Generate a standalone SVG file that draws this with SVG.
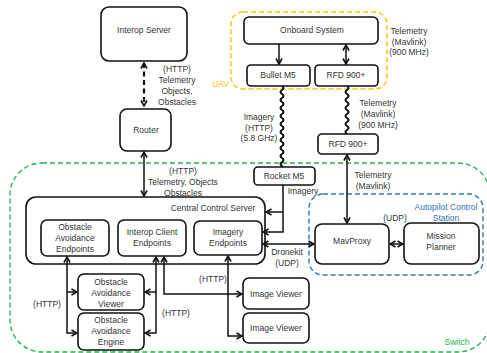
<svg xmlns="http://www.w3.org/2000/svg" width="487" height="353" viewBox="0 0 487 353">
<style>
text{font-family:"Liberation Sans",Arial,sans-serif;font-size:8.5px;fill:#333;text-anchor:middle}
.box{fill:#fff;stroke:#111;stroke-width:1.6}
.ln{fill:none;stroke:#111;stroke-width:1.5}
.wv{fill:none;stroke:#111;stroke-width:2}
.sw{fill:none;stroke:#1fb24a;stroke-width:1.3;stroke-dasharray:5 3}
.uav{fill:none;stroke:#ffc000;stroke-width:1.4;stroke-dasharray:5 3}
.acs{fill:none;stroke:#2e75b6;stroke-width:1.4;stroke-dasharray:5 3}
.g{fill:#1fb24a}.y{fill:#ffc000}.b{fill:#2e75b6}
</style>
<defs>
<marker id="ah" viewBox="0 0 8 8" refX="7" refY="4" markerWidth="8" markerHeight="8" markerUnits="userSpaceOnUse" orient="auto-start-reverse">
<path d="M1.5,1 L7,4 L1.5,7" fill="none" stroke="#111" stroke-width="1.6"/>
</marker>
</defs>

<g id="switch">
<rect class="sw" x="10" y="163" width="480" height="189" rx="32"/>
<text class="g" x="457" y="345">Switch</text>
</g>
<g id="uav">
<rect class="uav" x="231" y="12" width="156" height="77" rx="12"/>
<text class="y" x="229" y="87" style="text-anchor:end">UAV</text>
</g>
<g id="acs">
<rect class="acs" x="309" y="194" width="174" height="81" rx="14"/>
<text class="b" x="446" y="210">Autopilot Control</text>
<text class="b" x="446" y="221">Station</text>
</g>

<g id="interop-server"><rect class="box" x="101" y="7" width="86" height="54" rx="8"/><text x="144" y="33">Interop Server</text></g>
<g id="router"><rect class="box" x="120" y="109" width="51" height="42" rx="7"/><text x="146" y="133">Router</text></g>
<g id="ccs"><rect class="box" x="26" y="197" width="239" height="67" rx="10"/><text x="213" y="211">Central Control Server</text></g>
<g id="oa-endpoints"><rect class="box" x="41" y="220" width="68" height="36" rx="6"/><text x="75" y="230">Obstacle</text><text x="75" y="241">Avoidance</text><text x="75" y="252">Endpoints</text></g>
<g id="ic-endpoints"><rect class="box" x="118" y="220" width="68" height="36" rx="6"/><text x="152" y="235">Interop Client</text><text x="152" y="246">Endpoints</text></g>
<g id="img-endpoints"><rect class="box" x="194" y="221" width="68" height="34" rx="6"/><text x="228" y="235">Imagery</text><text x="228" y="246">Endpoints</text></g>
<g id="oa-viewer"><rect class="box" x="78" y="274" width="66" height="36" rx="6"/><text x="111" y="285">Obstacle</text><text x="111" y="296">Avoidance</text><text x="111" y="307">Viewer</text></g>
<g id="oa-engine"><rect class="box" x="78" y="313" width="66" height="37" rx="6"/><text x="111" y="323">Obstacle</text><text x="111" y="334">Avoidance</text><text x="111" y="345">Engine</text></g>
<g id="image-viewer-1"><rect class="box" x="243" y="278" width="66" height="31" rx="6"/><text x="276" y="297">Image Viewer</text></g>
<g id="image-viewer-2"><rect class="box" x="243" y="313" width="66" height="30" rx="6"/><text x="276" y="331">Image Viewer</text></g>
<g id="rocket-m5"><rect class="box" x="254" y="167" width="61" height="18" rx="4"/><text x="284" y="179">Rocket M5</text></g>
<g id="rfd-ground"><rect class="box" x="318" y="134" width="60" height="20" rx="4"/><text x="348" y="147">RFD 900+</text></g>
<g id="mavproxy"><rect class="box" x="315" y="224" width="74" height="40" rx="7"/><text x="352" y="244">MavProxy</text></g>
<g id="mission-planner"><rect class="box" x="404" y="223" width="75" height="41" rx="7"/><text x="441" y="239">Mission</text><text x="441" y="250">Planner</text></g>
<g id="onboard"><rect class="box" x="244" y="17" width="134" height="27" rx="5"/><text x="312" y="33">Onboard System</text></g>
<g id="bullet-m5"><rect class="box" x="247" y="65" width="63" height="21" rx="4"/><text x="278" y="78">Bullet M5</text></g>
<g id="rfd-air"><rect class="box" x="315" y="65" width="63" height="21" rx="4"/><text x="346" y="78">RFD 900+</text></g>

<g id="connectors">
<path d="M144,63 V106" fill="none" stroke="#111" stroke-width="2.2" stroke-dasharray="5 3.5" marker-start="url(#ah)" marker-end="url(#ah)"/>
<path class="ln" d="M144,152 V196" stroke-width="2" marker-start="url(#ah)" marker-end="url(#ah)"/>
<path class="ln" d="M67,257 V333 H77" marker-start="url(#ah)" marker-end="url(#ah)"/>
<path class="ln" d="M67,292 H77" marker-end="url(#ah)"/>
<path class="ln" d="M156,257 V333 H145" marker-start="url(#ah)" marker-end="url(#ah)"/>
<path class="ln" d="M156,292 H145" marker-end="url(#ah)"/>
<path class="ln" d="M164,257 V294 H242" marker-start="url(#ah)" marker-end="url(#ah)"/>
<path class="ln" d="M228,256 V336 H242" marker-start="url(#ah)" marker-end="url(#ah)"/>
<path class="ln" d="M283,185 V232 H263" marker-end="url(#ah)"/>
<path class="ln" d="M283,212 H266" marker-end="url(#ah)"/>
<path class="ln" d="M263,244 H314" marker-start="url(#ah)" marker-end="url(#ah)"/>
<path class="ln" d="M390,244 H403" marker-start="url(#ah)" marker-end="url(#ah)"/>
<path class="ln" d="M347,155 V223" marker-start="url(#ah)" marker-end="url(#ah)"/>
<path class="ln" d="M279,44 V64" marker-end="url(#ah)"/>
<path class="ln" d="M346,45 V64" marker-start="url(#ah)" marker-end="url(#ah)"/>
<path class="wv" d="M282,86 q3,2 0,4 t0,4 t0,4 t0,4 t0,4 t0,4 t0,4 t0,4 t0,4 t0,4 t0,4 t0,4 t0,4 t0,4 t0,4 t0,4 t0,4 t0,4 t0,4 t0,4 v1"/>
<path class="wv" d="M347,86 q3,2 0,4 t0,4 t0,4 t0,4 t0,4 t0,4 t0,4 t0,4 t0,4 t0,4 t0,4 t0,4"/>
</g>

<g id="labels">
<text x="177" y="72">(HTTP)</text><text x="177" y="83">Telemetry</text><text x="177" y="94">Objects,</text><text x="177" y="105">Obstacles</text>
<text x="183" y="174">(HTTP)</text><text x="183" y="185">Telemetry, Objects</text><text x="183" y="196">Obstacles</text>
<text x="47" y="307">(HTTP)</text>
<text x="176" y="316">(HTTP)</text>
<text x="213" y="282">(HTTP)</text>
<text x="303" y="194">Imagery</text>
<text x="287" y="255">Dronekit</text><text x="287" y="266">(UDP)</text>
<text x="395" y="221">(UDP)</text>
<text x="373" y="178">Telemetry</text><text x="373" y="189">(Mavlink)</text>
<text x="378" y="106">Telemetry</text><text x="378" y="117">(Mavlink)</text><text x="378" y="128">(900 MHz)</text>
<text x="259" y="120">Imagery</text><text x="259" y="131">(HTTP)</text><text x="259" y="141">(5.8 GHz)</text>
<text x="409" y="34">Telemetry</text><text x="409" y="45">(Mavlink)</text><text x="409" y="55">(900 MHz)</text>
</g>
</svg>
